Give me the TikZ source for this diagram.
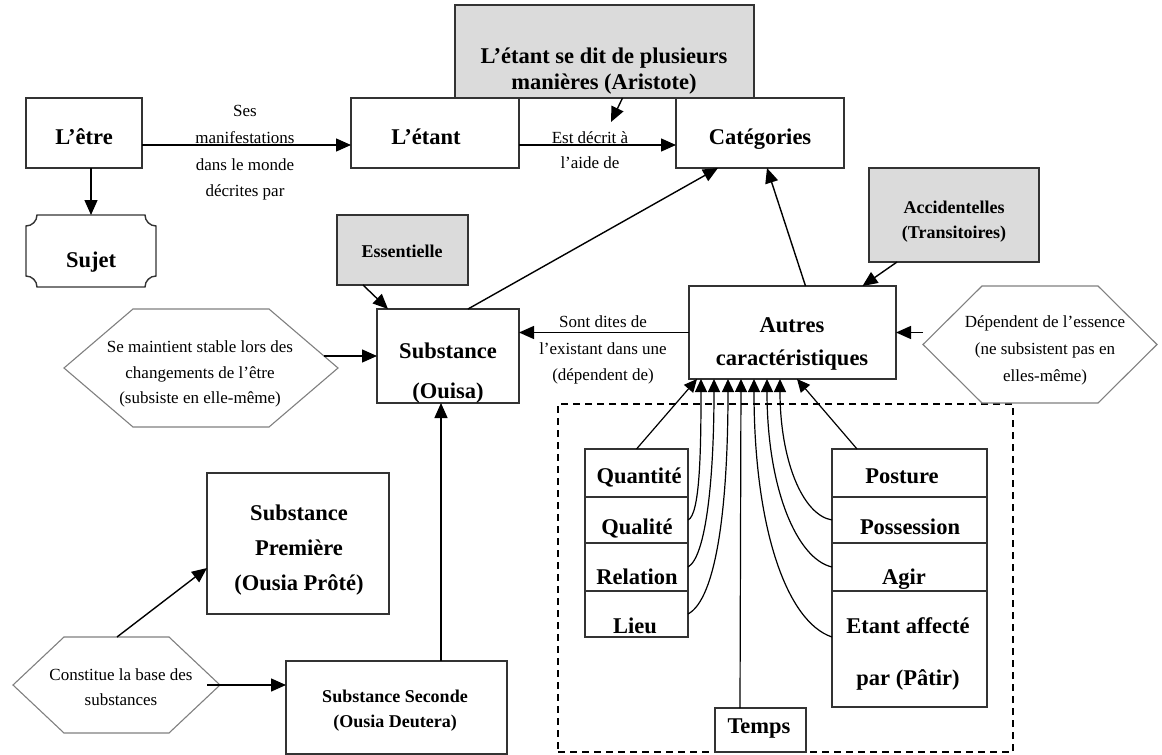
\documentclass[tikz,border=0pt]{standalone}
\usepackage{fontspec}
\setmainfont{Liberation Serif}
\usetikzlibrary{arrows.meta,calc}
\newcommand\mkbox[6][box]{%
  \pgfmathsetmacro\bxcx{(#3+#5)/2}%
  \pgfmathsetmacro\bxcy{(#4+#6)/2}%
  \pgfmathsetmacro\bxw{#5-#3}%
  \pgfmathsetmacro\bxh{#6-#4}%
  \node[#1, minimum width=\bxw pt, minimum height=\bxh pt] (#2) at (\bxcx,\bxcy) {};%
}
\newcommand\mkhex[6]{%
  \mkbox[hexbase]{#1}{#2}{#3}{#4}{#5}%
  \draw[hexline] (#1.west) -- ($(#1.north west)+(#6,0)$) -- ($(#1.north east)+(-#6,0)$) -- (#1.east)
    -- ($(#1.south east)+(-#6,0)$) -- ($(#1.south west)+(#6,0)$) -- cycle;%
}
\tikzset{
  every node/.style={inner sep=0pt, outer sep=0pt},
  boxline/.style={draw=black!80, line width=1.4pt},
  box/.style={boxline, fill=white},
  graybox/.style={box, fill=black!14},
  hexbase/.style={inner sep=0pt},
  nobox/.style={inner sep=0pt},
  framebox/.style={draw=black, line width=1.4pt, dash pattern=on 7pt off 5pt},
  hexline/.style={draw=black!50, line width=1.1pt},
  ttl/.style={font=\fontsize{22.5}{35}\selectfont\bfseries, align=center},
  sttl/.style={font=\fontsize{18}{25}\selectfont\bfseries, align=center},
  lbl/.style={font=\fontsize{17}{26.5}\selectfont, align=center},
  arr/.style={line width=1.4pt, -{Triangle[length=15pt,width=13pt]}},
  sarr/.style={line width=1.2pt, -{Triangle[length=13pt,width=12pt]}},
}
\begin{document}
\begin{tikzpicture}[x=1pt,y=-1pt]
\useasboundingbox (0,0) rectangle (1162,755);
\fill[white] (0,0) rectangle (1162,755);

% dashed frame
\mkbox[framebox]{frame}{558}{404}{1013}{752}

% boxes
\mkbox{etre}{26}{98}{142}{168}
\mkbox[nobox]{sujet}{26}{215}{156}{287}
\begin{scope}[shift={(sujet.north west)}]
  \draw[boxline] (11,0) -- (119,0) .. controls (119,6) and (124,11) .. (130,11) -- (130,61)
    .. controls (124,61) and (119,66) .. (119,72) -- (11,72) .. controls (11,66) and (6,61) .. (0,61)
    -- (0,11) .. controls (6,11) and (11,6) .. (11,0) -- cycle;
\end{scope}
\mkbox{etant}{351}{98}{519}{168}
\mkbox[graybox]{arist}{455}{5}{754}{98}
\mkbox{cat}{676}{98}{844}{168}
\mkbox[graybox]{ess}{337}{215}{468}{285}
\mkbox{subst}{377}{309}{519}{403}
\mkbox[graybox]{acc}{869}{168}{1039}{262}
\mkbox{autres}{689}{286}{896}{379}
\mkbox{prem}{207}{473}{389}{614}
\mkbox{sec}{286}{661}{507}{754}

\mkhex{hexa}{64}{309}{338}{427}{69}
\mkhex{hexb}{923}{286}{1157}{403}{59}
\mkhex{hexc}{13}{637}{220}{733}{51}

\mkbox{qty}{585}{449}{688}{497}
\mkbox{qual}{585}{497}{688}{543}
\mkbox{rel}{585}{543}{688}{591}
\mkbox{lieu}{585}{591}{688}{637}
\mkbox{post}{832}{449}{987}{497}
\mkbox{poss}{832}{497}{987}{543}
\mkbox{agir}{832}{543}{987}{591}
\mkbox{etaff}{832}{591}{987}{707}
\mkbox{temps}{715}{708}{806}{752}

% texts
\node[ttl, anchor=base] (etre-t) at (84,144) {L’être};
\node[ttl, anchor=base] (sujet-t) at (91,267) {Sujet};
\node[ttl, anchor=base] (etant-t) at (426,144) {L’étant};
\node[ttl, anchor=base] (cat-t) at (760,144) {Catégories};
\node[ttl, font=\fontsize{22.5}{25.6}\selectfont\bfseries] (arist-t) at (604,71) {L’étant se dit de plusieurs\\manières (Aristote)};
\node[ttl, font=\fontsize{22.5}{40}\selectfont\bfseries] (subst-t) at (448,373) {Substance\\(Ouisa)};
\node[ttl, font=\fontsize{22.5}{33}\selectfont\bfseries] (autres-t) at (792,344) {Autres\\caractéristiques};
\node[ttl, font=\fontsize{22.5}{35}\selectfont\bfseries] (prem-t) at (299,550) {Substance\\Première\\(Ousia Prôté)};
\node[ttl, anchor=base] (qty-t) at (639,483) {Quantité};
\node[ttl, anchor=base] (qual-t) at (637,534) {Qualité};
\node[ttl, anchor=base] (rel-t) at (637,584) {Relation};
\node[ttl, anchor=base] (lieu-t) at (635,633) {Lieu};
\node[ttl, anchor=base] (post-t) at (902,483) {Posture};
\node[ttl, anchor=base] (poss-t) at (910,534) {Possession};
\node[ttl, anchor=base] (agir-t) at (904,584) {Agir};
\node[ttl, font=\fontsize{22.5}{52}\selectfont\bfseries] (etaff-t) at (908,654) {Etant affecté\\par (Pâtir)};
\node[ttl, anchor=base] (temps-t) at (759,733) {Temps};

\node[sttl, anchor=base] (ess-t) at (402,257) {Essentielle};
\node[sttl] (acc-t) at (954,222) {Accidentelles\\(Transitoires)};
\node[sttl] (sec-t) at (395,711) {Substance Seconde\\(Ousia Deutera)};

\node[lbl, font=\fontsize{17}{26.7}\selectfont] (ses-t) at (245,153) {Ses\\manifestations\\dans le monde\\décrites par};
\node[lbl, font=\fontsize{17}{25}\selectfont] (est-t) at (590,150) {Est décrit à\\l’aide de};
\node[lbl] (sont-t) at (603,350) {Sont dites de\\l’existant dans une\\(dépendent de)};
\node[lbl, font=\fontsize{17}{25.5}\selectfont] (hexa-t) at (200,374) {Se maintient stable lors des\\changements de l’être\\(subsiste en elle-même)};
\node[lbl, font=\fontsize{17}{27}\selectfont] (hexb-t) at (1045,350) {Dépendent de l’essence\\(ne subsistent pas en\\elles-même)};
\node[lbl, font=\fontsize{17}{25}\selectfont] (hexc-t) at (121,687) {Constitue la base des\\substances};

% connectors
\coordinate (aristip) at (611,122);
\draw[arr] ($(etre.east)+(0,12)$) -- ($(etant.west)+(0,12)$);
\draw[arr] (sujet.north |- etre.south) -- (sujet.north);
\draw[arr] ($(etant.east)+(0,12)$) -- ($(cat.west)+(0,12)$);
\draw[arr] ($(arist.south)+(18,0)$) -- (aristip);
\draw[arr] ($(subst.north)+(20,0)$) -- ($(cat.south)+(-42,0)$);
\draw[arr] ($(autres.north)+(13,0)$) -- ($(cat.south)+(7,0)$);
\draw[arr] ($(acc.south west)+(28,0)$) -- ($(autres.north)+(70,0)$);
\draw[arr] ($(ess.south west)+(26,0)$) -- ($(subst.north west)+(11,0)$);
\draw[arr] ($(hexa.east)+(-14,-12)$) -- (subst.west);
\draw[arr] (autres.west) -- (subst.east |- autres.west);
\draw[arr] (autres.east -| hexb.west) -- (autres.east);
\draw[arr] ($(sec.north)+(44.5,0)$) -- ($(subst.south)+(-7,0)$);
\draw[arr] ($(hexc.north)+(0.5,0)$) -- ($(prem.west)+(0,24.5)$);
\draw[arr] ($(hexc.east)+(-13,0)$) -- (sec.west |- hexc.east);

% categories to Autres
\draw[sarr] (qty.north) -- ($(autres.south west)+(8,0)$);
\draw[sarr] (qual.east) .. controls +(12,-5) and +(0,71) .. ($(autres.south west)+(12,0)$);
\draw[sarr] (rel.east) .. controls +(18,-10) and +(0,100) .. ($(autres.south west)+(25,0)$);
\draw[sarr] (lieu.east) .. controls +(28,-15) and +(0,130) .. ($(autres.south west)+(39,0)$);
\draw[sarr] ($(temps.north)+(-20.5,0)$) -- ($(autres.south west)+(52,0)$);
\draw[sarr] ($(etaff.west)+(0,-12)$) .. controls +(-45,-15) and +(0,150) .. ($(autres.south west)+(65,0)$);
\draw[sarr] (agir.west) .. controls +(-35,-8) and +(0,110) .. ($(autres.south west)+(78,0)$);
\draw[sarr] (poss.west) .. controls +(-30,-5) and +(0,80) .. ($(autres.south west)+(91,0)$);
\draw[sarr] ($(post.north west)+(25,0)$) -- ($(autres.south west)+(108,0)$);
\end{tikzpicture}
\end{document}
